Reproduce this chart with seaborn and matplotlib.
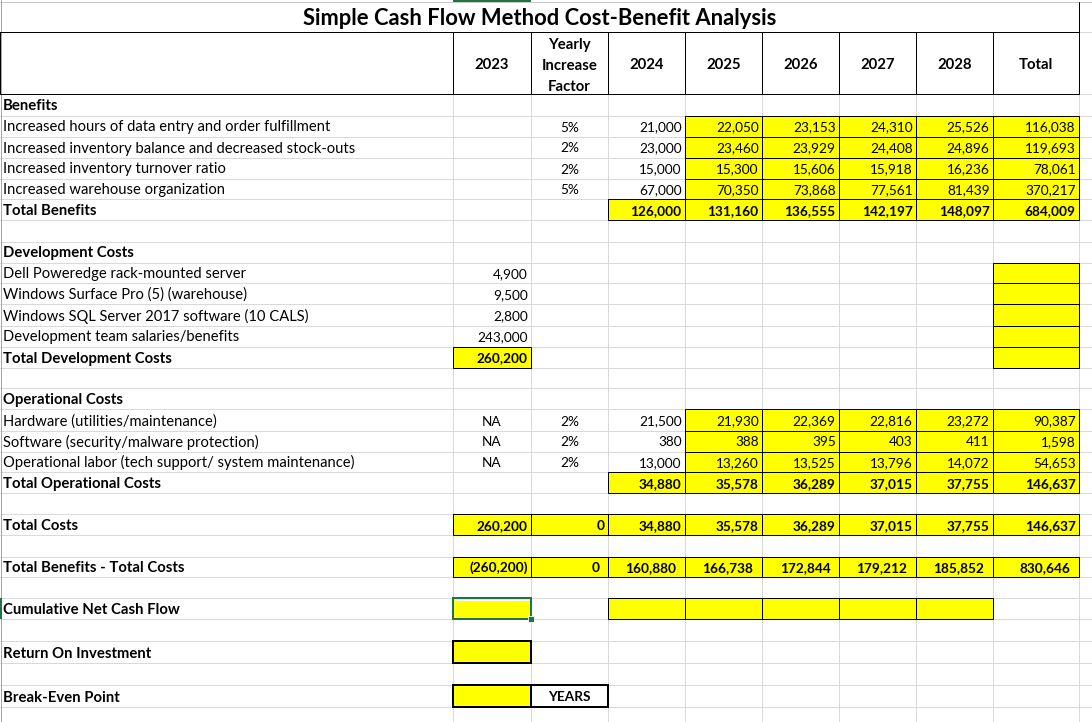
import matplotlib
matplotlib.use("Agg")
import matplotlib.pyplot as plt
from matplotlib.patches import Rectangle
import pandas as pd
import seaborn as sns

# ---------------- data ----------------
title = "Simple Cash Flow Method Cost-Benefit Analysis"
col_headers = ["2023", "Yearly\nIncrease\nFactor", "2024", "2025", "2026", "2027", "2028", "Total"]

benefit_items = ["Increased hours of data entry and order fulfillment",
                 "Increased inventory balance and decreased stock-outs",
                 "Increased inventory turnover ratio",
                 "Increased warehouse organization"]
benefit_factor = ["5%", "2%", "2%", "5%"]
benefit_2024 = [21000, 23000, 15000, 67000]
benefit_2025 = [22050, 23460, 15300, 70350]
benefit_2026 = [23153, 23929, 15606, 73868]
benefit_2027 = [24310, 24408, 15918, 77561]
benefit_2028 = [25526, 24896, 16236, 81439]
benefit_total = [116038, 119693, 78061, 370217]
total_benefits = [126000, 131160, 136555, 142197, 148097, 684009]

dev_items = ["Dell Poweredge rack-mounted server",
             "Windows Surface Pro (5) (warehouse)",
             "Windows SQL Server 2017 software (10 CALS)",
             "Development team salaries/benefits"]
dev_2023 = [4900, 9500, 2800, 243000]
total_dev = 260200

op_items = ["Hardware (utilities/maintenance)",
            "Software (security/malware protection)",
            "Operational labor (tech support/ system maintenance)"]
op_2023 = ["NA", "NA", "NA"]
op_factor = ["2%", "2%", "2%"]
op_2024 = [21500, 380, 13000]
op_2025 = [21930, 388, 13260]
op_2026 = [22369, 395, 13525]
op_2027 = [22816, 403, 13796]
op_2028 = [23272, 411, 14072]
op_total = [90387, 1598, 54653]
total_op = [34880, 35578, 36289, 37015, 37755, 146637]

total_costs = [260200, 0, 34880, 35578, 36289, 37015, 37755, 146637]
net_benefit = [-260200, 0, 160880, 166738, 172844, 179212, 185852, 830646]

section_labels = {0: "Benefits", 5: "Total Benefits", 7: "Development Costs",
                  12: "Total Development Costs", 14: "Operational Costs",
                  18: "Total Operational Costs", 20: "Total Costs",
                  22: "Total Benefits - Total Costs", 24: "Cumulative Net Cash Flow",
                  26: "Return On Investment", 28: "Break-Even Point"}
years_label = "YEARS"

# ---------------- layout (pixels) ----------------
W, H = 1092, 722
col_edges = [0, 453, 531, 608, 685, 762, 839, 916, 993, 1079]
title_top, title_bot, head_bot = 2, 32.3, 94.3
row_edges = [94.3, 115.7, 136.7, 157.7, 178.7, 199.3, 220.3, 241.7, 262.7, 283.3,
             304.3, 325.7, 346.7, 367.7, 388.3, 409.3, 430.7, 451.7, 472.3, 493.3,
             514.3, 535.3, 556.7, 577.3, 598.3, 619.3, 641.3, 663.3, 685.0, 707.3, 729.5]
YELLOW = "#FFFF00"
GRID = "#D9D9D9"
GREEN = "#217346"
PX = 0.72  # one pixel in points

sns.set_theme(style="white")
plt.rcParams["font.family"] = ["Lato", "DejaVu Sans"]

fig = plt.figure(figsize=(W / 100, H / 100), dpi=100)
ax = fig.add_axes([0, 0, 1, 1])
ax.set_xlim(0, W)
ax.set_ylim(H, 0)
ax.axis("off")
renderer = fig.canvas.get_renderer()


def fit(s, target, weight):
    t = ax.text(0, 0, s, fontsize=10, fontweight=weight)
    w = t.get_window_extent(renderer).width
    t.remove()
    return 10 * target / w


fs_label = fit("Increased inventory balance and decreased stock-outs", 351.7, "normal")
fs_label_b = fit("Total Benefits - Total Costs", 180.4, "bold")
fs_num = fit("21,000", 42.7, "normal")
fs_num_b = fit("126,000", 51, "bold")
fs_head = fit("Increase", 55.7, "bold")
fs_title = fit(title, 474, "bold")

# ---------------- build cell table ----------------
cells = []  # row, col, value, bold, kind


def add(r, c, v, bold=False, kind="num"):
    cells.append(dict(row=r, col=c, value=v, bold=bold, kind=kind))


for i, name in enumerate(benefit_items):
    r = 1 + i
    add(r, 0, name, kind="label")
    add(r, 2, benefit_factor[i], kind="center")
    for c, arr in zip(range(3, 9), [benefit_2024, benefit_2025, benefit_2026,
                                    benefit_2027, benefit_2028, benefit_total]):
        add(r, c, arr[i])
for j, v in enumerate(total_benefits):
    add(5, 3 + j, v, bold=True)
for i, name in enumerate(dev_items):
    add(8 + i, 0, name, kind="label")
    add(8 + i, 1, dev_2023[i])
add(12, 1, total_dev, bold=True)
for i, name in enumerate(op_items):
    r = 15 + i
    add(r, 0, name, kind="label")
    add(r, 1, op_2023[i], kind="center")
    add(r, 2, op_factor[i], kind="center")
    for c, arr in zip(range(3, 9), [op_2024, op_2025, op_2026, op_2027, op_2028, op_total]):
        add(r, c, arr[i])
for j, v in enumerate(total_op):
    add(18, 3 + j, v, bold=True)
for j, v in enumerate(total_costs):
    add(20, 1 + j, v, bold=True)
for j, v in enumerate(net_benefit):
    add(22, 1 + j, v, bold=True, kind="acct")
for r, s in section_labels.items():
    add(r, 0, s, bold=True, kind="label")
add(28, 2, years_label, bold=True, kind="center")
table = pd.DataFrame(cells)

# yellow boxed cells: (row, first col, last col)
yellow_blocks = [(r, 4, 8) for r in range(1, 5)] + [(5, 3, 8)] + \
                [(r, 8, 8) for r in range(8, 13)] + [(12, 1, 1)] + \
                [(r, 4, 8) for r in range(15, 18)] + [(18, 3, 8)] + \
                [(20, 1, 8), (22, 1, 8), (24, 3, 7)]


def cell_rect(r, c):
    x0, x1 = col_edges[c], col_edges[c + 1]
    y0, y1 = row_edges[r], row_edges[r + 1]
    return x0, y0, x1 - x0, y1 - y0


# ---------------- gridlines ----------------
ax.plot([0, W], [title_top, title_top], color="#C8C8C8", lw=PX, zorder=1)
for y in [title_bot, head_bot] + row_edges:
    ax.plot([0, W], [y, y], color=GRID, lw=PX, zorder=1)
for x in col_edges[1:]:
    ax.plot([x, x], [title_bot, H], color=GRID, lw=PX, zorder=1)
ax.plot([col_edges[-1]] * 2, [title_top, H], color=GRID, lw=PX, zorder=1)
ax.plot([0.6, 0.6], [0, H], color="#A6A6A6", lw=PX, zorder=1)
# selection indicators
ax.add_patch(Rectangle((col_edges[1], 0), col_edges[2] - col_edges[1], 2,
                       color=GREEN, zorder=5, lw=0))
ax.add_patch(Rectangle((0, row_edges[24]), 1.6, row_edges[25] - row_edges[24],
                       color=GREEN, zorder=5, lw=0))

# ---------------- title & header ----------------
ax.plot([0, col_edges[-1]], [title_bot, title_bot], color="black", lw=PX, zorder=3)
ax.plot([col_edges[-1]] * 2, [title_top, title_bot], color="black", lw=PX, zorder=3)
ax.text((col_edges[0] + col_edges[-1]) / 2, 25, title, fontsize=fs_title,
        fontweight="bold", ha="center", va="baseline", color="black", zorder=4)
for c in range(len(col_edges) - 1):
    x0, x1 = col_edges[c], col_edges[c + 1]
    ax.add_patch(Rectangle((x0, title_bot), x1 - x0, head_bot - title_bot,
                           fill=False, ec="black", lw=PX, zorder=3))
for k, h in enumerate(col_headers):
    xc = (col_edges[k + 1] + col_edges[k + 2]) / 2
    lines = h.split("\n")
    if len(lines) == 1:
        ax.text(xc, 69.3, h, fontsize=fs_head, fontweight="bold", ha="center",
                va="baseline", color="black", zorder=4)
    else:
        for ln, yb in zip(lines, [48.5, 69.6, 90.6]):
            ax.text(xc, yb, ln, fontsize=fs_head, fontweight="bold", ha="center",
                    va="baseline", color="black", zorder=4)

# ---------------- yellow cells ----------------
for r, c0, c1 in yellow_blocks:
    for c in range(c0, c1 + 1):
        ax.add_patch(Rectangle(cell_rect(r, c)[:2], *cell_rect(r, c)[2:],
                               fc=YELLOW, ec="black", lw=PX, zorder=2))
# cumulative: selected cell (green outline)
x, y, w, h = cell_rect(24, 1)
ax.add_patch(Rectangle((x, y), w, h, fc=YELLOW, ec="none", zorder=2))
ax.add_patch(Rectangle((x + 1.5, y + 1.5), w - 3, h - 3, fill=False, ec="white",
                       lw=PX, zorder=3))
ax.add_patch(Rectangle((x, y), w, h, fill=False, ec=GREEN, lw=2 * PX, zorder=3))
ax.add_patch(Rectangle((x + w - 3, y + h - 3), 5.5, 5.5, fc=GREEN, ec="white",
                       lw=PX * 0.8, zorder=4))
# ROI and break-even boxes (medium border)
for r, c, fc in [(26, 1, YELLOW), (28, 1, YELLOW), (28, 2, "white")]:
    x, y, w, h = cell_rect(r, c)
    ax.add_patch(Rectangle((x, y), w, h, fc=fc, ec="black", lw=2 * PX, zorder=3))


# ---------------- cell text ----------------
def fmt(v):
    if isinstance(v, str):
        return v
    s = f"{abs(v):,}"
    return f"({s})" if v < 0 else s


for _, row in table.iterrows():
    r, c = row["row"], row["col"]
    yb = row_edges[r + 1] - 5.2
    txt = fmt(row["value"])
    bold = row["bold"]
    kind = row["kind"]
    if kind == "label":
        ax.text(3.0, yb, txt, fontsize=fs_label_b if bold else fs_label,
                fontweight="bold" if bold else "normal", ha="left",
                va="baseline", color="black", zorder=4)
    elif kind == "center":
        xc = (col_edges[c] + col_edges[c + 1]) / 2
        yy = yb - 0.6 if txt == years_label else yb
        ax.text(xc, yy, txt, fontsize=fs_num_b if bold else fs_num,
                fontweight="bold" if bold else "normal", ha="center",
                va="baseline", color="black", zorder=4)
    else:
        pad = 3.3
        if kind == "acct" and not isinstance(row["value"], str) and row["value"] >= 0:
            pad = 8.6
        ax.text(col_edges[c + 1] - pad, yb, txt,
                fontsize=fs_num_b if bold else fs_num,
                fontweight="bold" if bold else "normal", ha="right",
                va="baseline", color="black", zorder=4)

fig.savefig("out.png", dpi=100, facecolor="white")
